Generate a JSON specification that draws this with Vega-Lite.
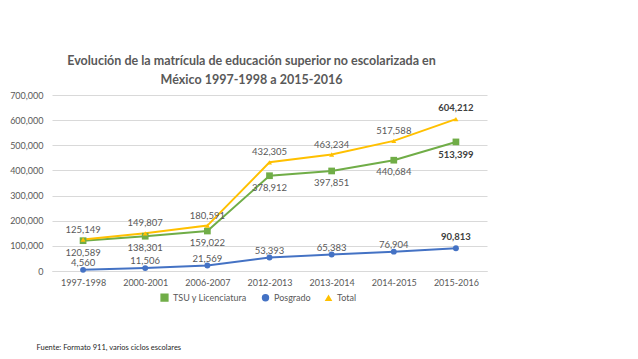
{
  "$schema": "https://vega.github.io/schema/vega-lite/v6.json",
  "width": 435,
  "height": 176,
  "autosize": {"type": "none"},
  "padding": {"left": 52, "top": 95, "right": 151, "bottom": 88},
  "background": "white",
  "title": {
    "text": ["Evolución de la matrícula de educación superior no escolarizada en", "México 1997-1998 a 2015-2016"],
    "anchor": "middle",
    "dx": -18,
    "offset": 5,
    "font": "Lato",
    "fontSize": 12.5,
    "fontWeight": "bold",
    "color": "#595959",
    "lineHeight": 19
  },
  "data": {
    "values": [
      {"ciclo": "1997-1998", "serie": "TSU y Licenciatura", "valor": 120589},
      {"ciclo": "2000-2001", "serie": "TSU y Licenciatura", "valor": 138301},
      {"ciclo": "2006-2007", "serie": "TSU y Licenciatura", "valor": 159022},
      {"ciclo": "2012-2013", "serie": "TSU y Licenciatura", "valor": 378912},
      {"ciclo": "2013-2014", "serie": "TSU y Licenciatura", "valor": 397851},
      {"ciclo": "2014-2015", "serie": "TSU y Licenciatura", "valor": 440684},
      {"ciclo": "2015-2016", "serie": "TSU y Licenciatura", "valor": 513399},
      {"ciclo": "1997-1998", "serie": "Posgrado", "valor": 4560},
      {"ciclo": "2000-2001", "serie": "Posgrado", "valor": 11506},
      {"ciclo": "2006-2007", "serie": "Posgrado", "valor": 21569},
      {"ciclo": "2012-2013", "serie": "Posgrado", "valor": 53393},
      {"ciclo": "2013-2014", "serie": "Posgrado", "valor": 65383},
      {"ciclo": "2014-2015", "serie": "Posgrado", "valor": 76904},
      {"ciclo": "2015-2016", "serie": "Posgrado", "valor": 90813},
      {"ciclo": "1997-1998", "serie": "Total", "valor": 125149},
      {"ciclo": "2000-2001", "serie": "Total", "valor": 149807},
      {"ciclo": "2006-2007", "serie": "Total", "valor": 180591},
      {"ciclo": "2012-2013", "serie": "Total", "valor": 432305},
      {"ciclo": "2013-2014", "serie": "Total", "valor": 463234},
      {"ciclo": "2014-2015", "serie": "Total", "valor": 517588},
      {"ciclo": "2015-2016", "serie": "Total", "valor": 604212}
    ]
  },
  "encoding": {
    "x": {
      "field": "ciclo",
      "type": "ordinal",
      "sort": null,
      "scale": {"type": "point", "padding": 0.5},
      "axis": {
        "title": "Fuente: Formato 911, varios ciclos escolares",
        "titleX": -16,
        "titleY": 78,
        "titleAlign": "left",
        "titleAnchor": "start",
        "titleBaseline": "alphabetic",
        "titleFont": "Lato",
        "titleFontSize": 7.5,
        "titleFontWeight": "normal",
        "titleColor": "#262626",
        "labelAngle": 0,
        "labelFont": "Lato",
        "labelFontSize": 9,
        "labelColor": "#595959",
        "labelPadding": 7,
        "ticks": false,
        "domainColor": "#d9d9d9",
        "domainWidth": 1
      }
    },
    "y": {
      "field": "valor",
      "type": "quantitative",
      "scale": {"domain": [0, 700000]},
      "axis": {
        "title": null,
        "values": [0, 100000, 200000, 300000, 400000, 500000, 600000, 700000],
        "format": ",.0f",
        "domain": false,
        "ticks": false,
        "labelFont": "Lato",
        "labelFontSize": 9,
        "labelColor": "#595959",
        "labelPadding": 9,
        "gridColor": "#d9d9d9",
        "gridWidth": 1
      }
    },
    "color": {
      "field": "serie",
      "type": "nominal",
      "scale": {
        "domain": ["TSU y Licenciatura", "Posgrado", "Total"],
        "range": ["#70AD47", "#4472C4", "#FFC000"]
      },
      "legend": {
        "title": null,
        "orient": "none",
        "legendX": 108,
        "legendY": 198,
        "direction": "horizontal",
        "labelFont": "Lato",
        "labelFontSize": 9,
        "labelColor": "#595959",
        "symbolSize": 40,
        "columnPadding": 12
      }
    }
  },
  "layer": [
    {
      "mark": {"type": "line", "strokeWidth": 2}
    },
    {
      "mark": {"type": "point", "filled": true, "opacity": 1},
      "encoding": {
        "shape": {
          "field": "serie",
          "type": "nominal",
          "scale": {
            "domain": ["TSU y Licenciatura", "Posgrado", "Total"],
            "range": ["square", "circle", "triangle-up"]
          },
          "legend": {
            "title": null,
            "orient": "none",
            "legendX": 108,
            "legendY": 198,
            "direction": "horizontal",
            "labelFont": "Lato",
            "labelFontSize": 9,
            "labelColor": "#595959",
            "symbolSize": 40,
            "columnPadding": 12
          }
        },
        "size": {
          "field": "serie",
          "type": "nominal",
          "scale": {
            "domain": ["TSU y Licenciatura", "Posgrado", "Total"],
            "range": [45, 25, 55]
          },
          "legend": null
        }
      }
    },
    {
      "transform": [{"filter": "datum.ciclo != '2015-2016'"}, {"filter": "datum.serie == 'TSU y Licenciatura'"}],
      "mark": {"type": "text", "dy": 12, "font": "Lato", "fontSize": 9.5},
      "encoding": {"text": {"field": "valor", "format": ","}, "color": {"value": "#595959"}}
    },
    {
      "transform": [{"filter": "datum.ciclo != '2015-2016'"}, {"filter": "datum.serie == 'Total'"}],
      "mark": {"type": "text", "dy": -10, "font": "Lato", "fontSize": 9.5},
      "encoding": {"text": {"field": "valor", "format": ","}, "color": {"value": "#595959"}}
    },
    {
      "transform": [{"filter": "datum.ciclo != '2015-2016'"}, {"filter": "datum.serie == 'Posgrado'"}],
      "mark": {"type": "text", "dy": -7, "font": "Lato", "fontSize": 9.5},
      "encoding": {"text": {"field": "valor", "format": ","}, "color": {"value": "#595959"}}
    },
    {
      "transform": [{"filter": "datum.ciclo == '2015-2016'"}, {"filter": "datum.serie == 'TSU y Licenciatura'"}],
      "mark": {"type": "text", "dy": 13, "font": "Lato", "fontSize": 9.5, "fontWeight": "bold"},
      "encoding": {"text": {"field": "valor", "format": ","}, "color": {"value": "#404040"}}
    },
    {
      "transform": [{"filter": "datum.ciclo == '2015-2016'"}, {"filter": "datum.serie != 'TSU y Licenciatura'"}],
      "mark": {"type": "text", "dy": -11, "font": "Lato", "fontSize": 9.5, "fontWeight": "bold"},
      "encoding": {"text": {"field": "valor", "format": ","}, "color": {"value": "#404040"}}
    }
  ],
  "config": {
    "view": {"stroke": null}
  }
}
